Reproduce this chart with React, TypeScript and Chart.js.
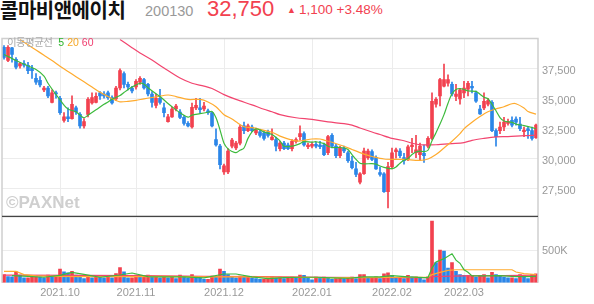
import React, { useEffect, useRef } from 'react';
import { Chart, registerables } from 'chart.js';

Chart.register(...registerables);

// ---- Daily OHLC (KRW), one entry per trading day (Sep 2021 – Mar 2022) ----
const openP = [
  39250, 38150, 39200, 38250, 37700, 37900, 37750, 37500, 36650, 36500,
  35700, 35850, 34650, 35450, 35000, 33150, 33450, 33300, 34200, 33650,
  32700, 33650, 34600, 34650, 35450, 35350, 35450, 35050, 34950, 35850,
  37050, 36150, 35850, 35950, 36350, 36550, 36150, 35350, 34400, 35000,
  34200, 33050, 33450, 34100, 33850, 33400, 32900, 32600, 34200, 34200,
  34100, 33950, 33800, 31550, 31000, 28850, 28850, 31000, 30850, 31250,
  32700, 32300, 32600, 32100, 32200, 32100, 32200, 31550, 31550, 30800,
  31250, 31100, 30800, 31400, 31800, 32050, 30950, 31000, 31150, 31100,
  31100, 30450, 31900, 31000, 30200, 30850, 30450, 29750, 29100, 28000,
  28700, 30050, 30550, 30050, 28800, 28700, 27200, 29300, 30550, 30600,
  30050, 29900, 30950, 30450, 30300, 30400, 31000, 31650, 34500, 35200,
  36000, 36250, 36150, 35150, 34950, 35450, 35750, 36000, 35450, 34100,
  34200, 34500, 34650, 32300, 32300, 32600, 32900, 33150, 33250, 32850,
  32200, 32450, 32300, 31700,
];
const highP = [
  39400, 39400, 39250, 38400, 38000, 38150, 38000, 37750, 37050, 36800,
  36000, 36000, 35700, 35600, 35150, 33800, 34200, 35200, 34350, 33800,
  33300, 35050, 35450, 35450, 35550, 35550, 35600, 35200, 36000, 37450,
  37200, 36350, 36000, 36550, 36800, 36650, 36250, 35550, 35350, 35750,
  34600, 33650, 34250, 34500, 34050, 33550, 33050, 34600, 35000, 35000,
  34650, 34100, 33850, 32450, 31150, 29500, 30800, 31650, 31400, 32750,
  33000, 32850, 32750, 32500, 32350, 32300, 32350, 32450, 31750, 31400,
  31400, 31250, 31550, 31700, 32700, 32200, 31250, 31350, 31350, 31400,
  31250, 31900, 32050, 31150, 31000, 31000, 30600, 30150, 29650, 28800,
  30850, 30750, 30700, 30200, 29250, 28800, 29650, 30850, 30850, 30800,
  30400, 31100, 31650, 31900, 31250, 31100, 31800, 35450, 35050, 36650,
  37850, 36950, 36350, 36150, 35800, 36400, 36400, 36400, 35600, 34400,
  35450, 35000, 34800, 32450, 33000, 33400, 33250, 33450, 33450, 33400,
  32600, 32600, 32600, 32850,
];
const lowP = [
  38250, 38050, 38000, 37450, 37500, 37600, 37050, 36650, 36150, 35950,
  35550, 35050, 34600, 35000, 33650, 33000, 33050, 33250, 33650, 32500,
  32500, 33450, 34500, 34600, 34900, 35000, 34900, 34500, 34800, 35700,
  35850, 35700, 35450, 35750, 36150, 35750, 35200, 34250, 34200, 34500,
  33450, 33000, 33400, 33950, 33300, 32750, 32600, 32500, 34050, 33800,
  33950, 33650, 32600, 31000, 29100, 28650, 28700, 30850, 30700, 31100,
  32050, 32200, 32200, 31950, 31750, 31500, 31750, 31500, 30600, 30600,
  30700, 30700, 30600, 31250, 31500, 31000, 30800, 30850, 30850, 30800,
  30200, 30300, 30850, 30050, 30050, 30450, 29650, 29100, 28450, 27850,
  28650, 29900, 29800, 29050, 28500, 27150, 25850, 29100, 30000, 30050,
  29500, 29800, 30450, 30050, 29800, 29650, 30850, 31550, 34250, 34350,
  35950, 36000, 35200, 34800, 34500, 35050, 35200, 35450, 34650, 33650,
  34050, 34350, 32200, 31000, 32050, 32300, 32750, 32600, 32750, 32300,
  31800, 31650, 31500, 31650,
];
const closeP = [
  38400, 39250, 38650, 37600, 37900, 37750, 37300, 37300, 36350, 36100,
  35850, 35200, 35450, 35350, 33800, 33450, 33300, 34500, 33850, 32700,
  33050, 34900, 35050, 35150, 35200, 35200, 35050, 34600, 35850, 37300,
  36150, 35950, 35600, 36400, 36650, 35850, 35350, 34650, 35000, 34650,
  33800, 33450, 34100, 34350, 33400, 32900, 32700, 34250, 34400, 34050,
  34350, 33800, 32700, 31100, 29450, 29350, 30600, 31500, 31250, 32600,
  32300, 32700, 32300, 32350, 31900, 31650, 31900, 31750, 31000, 31250,
  30800, 30800, 31400, 31550, 32050, 31100, 31100, 31150, 31000, 30950,
  30300, 31800, 31000, 30200, 30850, 30600, 29800, 29200, 28650, 28700,
  30600, 30600, 29900, 29100, 28650, 27200, 29300, 30450, 30700, 30200,
  29800, 30950, 31100, 30700, 31000, 30200, 31650, 34750, 34900, 36550,
  36550, 36550, 35350, 35350, 35700, 35850, 36250, 35850, 34750, 33700,
  34750, 34800, 32300, 31800, 32600, 33000, 33050, 32750, 33000, 32450,
  32350, 32300, 31650, 32750,
];
const volume = [
  127000, 95000, 90000, 167000, 118000, 78000, 78000, 93000, 93000, 88000,
  78000, 118000, 88000, 93000, 211000, 167000, 152000, 176000, 118000, 103000,
  64000, 103000, 78000, 93000, 88000, 78000, 88000, 78000, 142000, 235000,
  167000, 78000, 78000, 118000, 88000, 103000, 118000, 88000, 93000, 78000,
  93000, 78000, 88000, 64000, 118000, 88000, 78000, 127000, 93000, 78000,
  54000, 54000, 103000, 93000, 211000, 176000, 127000, 93000, 78000, 103000,
  88000, 93000, 78000, 64000, 54000, 54000, 78000, 93000, 78000, 88000,
  64000, 78000, 88000, 78000, 118000, 113000, 78000, 44000, 88000, 78000,
  88000, 78000, 54000, 64000, 78000, 64000, 78000, 88000, 64000, 127000,
  127000, 78000, 78000, 93000, 64000, 137000, 152000, 113000, 78000, 78000,
  64000, 113000, 93000, 93000, 78000, 44000, 93000, 945000, 309000, 500000,
  485000, 225000, 309000, 176000, 127000, 113000, 113000, 113000, 88000, 113000,
  127000, 78000, 162000, 127000, 113000, 88000, 78000, 78000, 64000, 127000,
  103000, 64000, 127000, 137000,
];

// ---- Moving-average lines: [day index, value] ----
const ma5Pts: [number, number][] = [
  [0, 38650], [3, 38150], [5, 37850], [8, 37400], [10, 36850], [11, 36250], [12, 35770],
  [14, 34860], [15, 34420], [16, 34100], [18, 33870], [19, 33590], [20, 33370], [21, 33590],
  [23, 34030], [25, 34500], [26, 34680], [27, 34920], [29, 35220], [30, 35480], [32, 35930],
  [34, 36250], [35, 36170], [36, 35880], [38, 35370], [39, 35140], [41, 34560], [43, 34030],
  [44, 33790], [46, 33420], [47, 33590], [49, 33710], [51, 33830], [52, 33900], [53, 33370],
  [54, 32360], [55, 31250], [56, 30770], [57, 30560], [58, 30460], [59, 30660], [60, 30850],
  [61, 31650], [62, 32200], [63, 32440], [64, 32360], [65, 32180], [67, 31970], [68, 31730],
  [69, 31450], [70, 30990], [72, 31010], [73, 31090], [74, 31210], [75, 31380], [77, 31330],
  [78, 31370], [80, 31210], [81, 30990], [82, 30890], [84, 30890], [85, 30850], [86, 30720],
  [87, 30300], [88, 29900], [89, 29580], [90, 29530], [92, 29540], [93, 29500], [94, 29350],
  [95, 29230], [96, 29150], [97, 29130], [98, 29270], [99, 29580], [100, 29820], [101, 29980],
  [102, 30300], [103, 30510], [104, 30580], [105, 30540], [106, 30660], [107, 31450],
  [108, 32120], [109, 32840], [110, 33630], [111, 34580], [112, 35370], [113, 35730],
  [114, 35810], [115, 35730], [116, 35610], [118, 35570], [119, 35330], [120, 35080],
  [121, 34950], [122, 34500], [123, 33950], [124, 33390], [125, 33100], [127, 32990],
  [128, 32840], [130, 32720], [132, 32560], [133, 32440],
];
const ma20Pts: [number, number][] = [
  [4, 39895], [6, 39460], [8, 39020], [10, 38590], [12, 38150], [14, 37670], [16, 37240],
  [18, 36800], [20, 36370], [22, 35930], [24, 35490], [26, 35140], [28, 34820], [29, 34700],
  [31, 34740], [33, 34820], [35, 34950], [38, 35110], [41, 35270], [43, 35140], [46, 34900],
  [49, 34900], [51, 34690], [53, 34290], [55, 33630], [57, 33270], [58, 33030], [60, 32620],
  [62, 32540], [64, 32400], [67, 32160], [69, 31840], [72, 31510], [74, 31430], [77, 31600],
  [79, 31600], [80, 31510], [82, 31330], [85, 30990], [87, 30720], [90, 30340], [92, 30140],
  [95, 29930], [100, 29900], [104, 29820], [106, 29930], [108, 30300], [110, 30850],
  [112, 31410], [114, 32040], [115, 32440], [117, 32990], [119, 33470], [121, 33870],
  [123, 34110], [125, 34290], [127, 34540], [128, 34540], [130, 34190], [131, 33890],
  [133, 33670],
];
const ma60Pts: [number, number][] = [
  [29, 39900], [32, 39220], [34, 38780], [37, 38190], [40, 37520], [44, 36680], [47, 36250],
  [50, 36010], [52, 35810], [55, 35300], [58, 34900], [62, 34450], [65, 34080], [67, 33870],
  [69, 33630], [73, 33370], [77, 33230], [81, 33020], [85, 32880], [87, 32760], [89, 32520],
  [92, 32180], [94, 31970], [97, 31650], [100, 31450], [102, 31250], [104, 31120],
  [108, 31120], [112, 31210], [115, 31290], [117, 31490], [120, 31650], [123, 31770],
  [126, 31800], [130, 31880], [133, 31910],
];
const vma5Pts: [number, number][] = [
  [2, 110000], [6, 100000], [10, 85000], [14, 115000], [17, 160000], [20, 130000],
  [24, 85000], [29, 120000], [32, 150000], [36, 95000], [40, 90000], [45, 90000],
  [50, 75000], [55, 135000], [58, 135000], [62, 90000], [66, 65000], [70, 80000],
  [74, 85000], [78, 85000], [82, 75000], [86, 70000], [90, 90000], [94, 90000],
  [97, 110000], [101, 90000], [105, 80000], [106, 80000], [107, 225000], [108, 320000],
  [110, 370000], [112, 446000], [113, 348000], [114, 299000], [115, 201000], [116, 162000],
  [117, 105000], [121, 105000], [124, 110000], [128, 95000], [131, 95000], [133, 100000],
];
const vma20Pts: [number, number][] = [
  [0, 176000], [3, 176000], [5, 125000], [8, 105000], [12, 100000], [20, 95000],
  [30, 95000], [40, 100000], [50, 90000], [60, 90000], [70, 85000], [80, 80000],
  [90, 80000], [100, 85000], [106, 85000], [107, 125000], [109, 160000], [111, 190000],
  [113, 200000], [120, 200000], [127, 200000], [128, 165000], [130, 140000], [133, 127000],
];
const vma60Pts: [number, number][] = [
  [0, 118000], [20, 115000], [35, 110000], [50, 100000], [65, 95000], [80, 85000],
  [95, 80000], [106, 80000], [107, 95000], [115, 105000], [125, 110000], [133, 118000],
];

// ---- Axis ticks ----
const monthTickIdx = [14, 33, 55, 77, 97, 115];
const monthTickLabels = ['2021.10', '2021.11', '2021.12', '2022.01', '2022.02', '2022.03'];
const priceRange = [25150, 39975];
const priceTickValues = [27500, 30000, 32500, 35000, 37500];
const volRange = [0, 1020000];
const volTickValues = [0, 500000, 1000000];
const volLabelled = 500000;
const volLabelText = '500K';

const RED = '#f2414f';
const BLUE = '#2b86e8';
const GREEN = '#3cba3c';
const ORANGE = '#ffab2e';
const PINK = '#f2456f';

const sparse = (pts: [number, number][], n: number) => {
  const arr: (number | null)[] = new Array(n).fill(null);
  pts.forEach(([i, v]) => { arr[i] = v; });
  return arr;
};

const framePlugin = {
  id: 'frame',
  afterDraw(chart: any) {
    const { ctx } = chart;
    const y = chart.scales.y;
    const yv = chart.scales.yv;
    const left = chart.chartArea.left;
    const right = chart.chartArea.right;
    ctx.save();
    ctx.strokeStyle = '#cfcfcf';
    ctx.lineWidth = 1.5;
    ctx.beginPath();
    ctx.moveTo(left, yv.bottom);
    ctx.lineTo(left, y.top);
    ctx.lineTo(right, y.top);
    ctx.lineTo(right, yv.bottom);
    ctx.stroke();
    ctx.strokeStyle = '#444';
    ctx.lineWidth = 1.3;
    ctx.beginPath();
    ctx.moveTo(left, y.bottom);
    ctx.lineTo(right, y.bottom);
    ctx.stroke();
    ctx.restore();
  },
};

export default function App() {
  const ref = useRef<HTMLCanvasElement | null>(null);

  useEffect(() => {
    if (!ref.current) return;
    const n = openP.length;
    const labels = openP.map((_, i) => String(i));
    const candleColors = openP.map((o, i) => (closeP[i] >= o ? RED : BLUE));
    const volColors = volume.map((v, i) => (i === 0 || v >= volume[i - 1] ? RED : BLUE));
    const tickFont = { size: 11, family: "'Liberation Sans', Arial, sans-serif" };

    const lineDs = (label: string, pts: [number, number][], color: string, axis: string, tension: number) => ({
      type: 'line' as const,
      label,
      data: sparse(pts, n),
      yAxisID: axis,
      borderColor: color,
      borderWidth: 1.2,
      pointRadius: 0,
      tension,
      spanGaps: true,
      order: 0,
    });

    const chart = new Chart(ref.current, {
      type: 'bar',
      data: {
        labels,
        datasets: [
          lineDs('MA5', ma5Pts, GREEN, 'y', 0.3),
          lineDs('MA20', ma20Pts, ORANGE, 'y', 0.3),
          lineDs('MA60', ma60Pts, PINK, 'y', 0.3),
          lineDs('VMA5', vma5Pts, GREEN, 'yv', 0),
          lineDs('VMA20', vma20Pts, ORANGE, 'yv', 0),
          lineDs('VMA60', vma60Pts, PINK, 'yv', 0),
          {
            type: 'bar' as const,
            label: 'body',
            data: openP.map((o, i) => [o, closeP[i]]) as any,
            backgroundColor: candleColors,
            barThickness: 3,
            minBarLength: 1,
            grouped: false,
            yAxisID: 'y',
            order: 1,
          },
          {
            type: 'bar' as const,
            label: 'wick',
            data: lowP.map((l, i) => [l, highP[i]]) as any,
            backgroundColor: candleColors,
            barThickness: 1,
            grouped: false,
            yAxisID: 'y',
            order: 2,
          },
          {
            type: 'bar' as const,
            label: 'volume',
            data: volume,
            backgroundColor: volColors,
            barThickness: 3,
            grouped: false,
            yAxisID: 'yv',
            order: 3,
          },
        ] as any,
      },
      options: {
        animation: false,
        responsive: false,
        devicePixelRatio: 1,
        layout: { padding: { top: 2, left: 2, right: 0, bottom: 0 } },
        plugins: { legend: { display: false }, tooltip: { enabled: false } },
        scales: {
          x: {
            type: 'category',
            offset: true,
            border: { display: false },
            grid: {
              offset: false,
              drawTicks: false,
              color: (c: any) => (monthTickIdx.includes(c.index) ? '#ececec' : 'rgba(0,0,0,0)'),
            },
            ticks: {
              autoSkip: false,
              maxRotation: 0,
              minRotation: 0,
              padding: 4,
              color: '#999',
              font: tickFont,
              callback: (_v: any, i: number) => {
                const k = monthTickIdx.indexOf(i);
                return k >= 0 ? monthTickLabels[k] : '';
              },
            },
          },
          y: {
            type: 'linear',
            position: 'right',
            stack: 'panels',
            stackWeight: 187,
            min: priceRange[0],
            max: priceRange[1],
            border: { display: false },
            grid: { color: '#ececec', drawTicks: false },
            afterBuildTicks: (s: any) => { s.ticks = priceTickValues.map((v) => ({ value: v })); },
            ticks: {
              padding: 4,
              labelOffset: 2.5,
              color: '#999',
              font: tickFont,
              callback: (v: any) => Number(v).toLocaleString('en-US'),
            },
            afterFit: (s: any) => { s.width = 56; },
          },
          yv: {
            type: 'linear',
            position: 'right',
            stack: 'panels',
            stackWeight: 70,
            min: volRange[0],
            max: volRange[1],
            border: { display: false },
            grid: { color: '#ececec', drawTicks: false },
            afterBuildTicks: (s: any) => { s.ticks = volTickValues.map((v) => ({ value: v })); },
            ticks: {
              padding: 4,
              labelOffset: 1,
              color: '#999',
              font: tickFont,
              callback: (v: any) => (Number(v) === volLabelled ? volLabelText : ''),
            },
            afterFit: (s: any) => { s.width = 56; },
          },
        } as any,
      },
      plugins: [framePlugin],
    });
    return () => chart.destroy();
  }, []);

  const numFont = "'Liberation Sans', Arial, sans-serif";
  const krFont = "'Noto Sans CJK KR', 'Noto Sans', sans-serif";

  return (
    <div style={{ position: 'absolute', left: 0, top: 0, width: 594, height: 304, overflow: 'hidden', background: '#fff' }}>
      <div style={{ position: 'absolute', left: 0, top: 0, font: `bold 20px ${krFont}`, lineHeight: '20px', letterSpacing: '-0.5px', color: '#111', whiteSpace: 'nowrap' }}>
        콜마비앤에이치
      </div>
      <div style={{ position: 'absolute', left: 145, top: 3, font: `14.5px ${numFont}`, lineHeight: '16px', color: '#999' }}>200130</div>
      <div style={{ position: 'absolute', left: 207, top: -2, font: `22px ${numFont}`, lineHeight: '22px', color: RED }}>32,750</div>
      <div style={{ position: 'absolute', left: 287, top: 4, font: `9px ${numFont}`, lineHeight: '12px', color: RED }}>▲</div>
      <div style={{ position: 'absolute', left: 299, top: 2, font: `13.5px ${numFont}`, lineHeight: '16px', color: RED, whiteSpace: 'nowrap' }}>1,100 +3.48%</div>
      <div style={{ position: 'absolute', left: 0, top: 28, width: 594, height: 276 }}>
        <canvas ref={ref} width={594} height={276} style={{ display: 'block', width: 594, height: 276 }} />
      </div>
      <div style={{ position: 'absolute', left: 7, top: 34, whiteSpace: 'nowrap', lineHeight: '14px' }}>
        <span style={{ font: `10.5px ${krFont}`, color: '#aaa', letterSpacing: '-0.6px' }}>이동평균선</span>
        <span style={{ font: `10.5px ${numFont}`, color: '#2db52d', marginLeft: 6 }}>5</span>
        <span style={{ font: `10.5px ${numFont}`, color: '#f5a623', marginLeft: 3 }}>20</span>
        <span style={{ font: `10.5px ${numFont}`, color: '#f03c6e', marginLeft: 3 }}>60</span>
      </div>
      <div style={{ position: 'absolute', left: 6, top: 193, font: `bold 17px ${numFont}`, color: '#cfcfcf', lineHeight: '20px', whiteSpace: 'nowrap' }}>
        ©PAXNet
      </div>
    </div>
  );
}
